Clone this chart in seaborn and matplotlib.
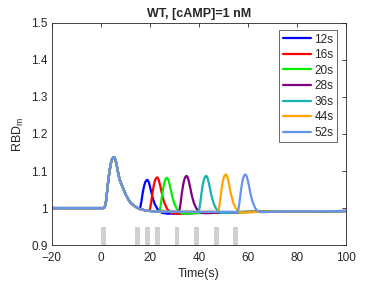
import numpy as np
import pandas as pd
import seaborn as sns
import matplotlib
matplotlib.use('Agg')
import matplotlib.pyplot as plt
from matplotlib.ticker import FuncFormatter

# first pulse response (shared by every curve before its second pulse)
base_t = [-20, 0, 1, 1.5, 2, 2.5, 3, 3.5, 4, 4.5, 5, 5.5, 6, 6.5, 7, 7.5, 8,
          9, 10, 11, 12, 13, 14, 15, 16, 18, 20, 22, 25, 30, 40, 54]
base_v = [1.0, 1.0, 1.0, 1.002, 1.015, 1.045, 1.075, 1.100, 1.120, 1.132, 1.137,
          1.137, 1.128, 1.113, 1.095, 1.080, 1.070, 1.054, 1.038, 1.025, 1.015,
          1.009, 1.004, 1.000, 0.997, 0.994, 0.992, 0.991, 0.990, 0.990, 0.990, 0.990]

labels = ['12s', '16s', '20s', '28s', '36s', '44s', '52s']
pulse2 = [14, 18, 22, 30, 38, 46, 54]
pulse_bars = [0, 14, 18, 22, 30, 38, 46, 54]
colors = ['#0000ff', '#ff0000', '#00ee00', '#800080', '#19b2b2', '#ffa500', '#6495ed']

# second pulse response, time after second pulse start
dt2 = [0, 1, 1.5, 2, 2.5, 3, 3.5, 4, 4.5, 5, 5.5, 6, 6.5, 7, 7.5, 8, 9, 10, 11, 13, 16]
v12 = [1.004, 1.000, 0.999, 1.001, 1.018, 1.040, 1.057, 1.069, 1.075, 1.076, 1.070,
       1.058, 1.044, 1.030, 1.019, 1.010, 0.998, 0.991, 0.987, 0.985, 0.985]
v16 = [0.994, 0.993, 0.993, 0.996, 1.016, 1.040, 1.060, 1.074, 1.081, 1.083, 1.077,
       1.065, 1.050, 1.035, 1.022, 1.012, 0.998, 0.990, 0.986, 0.985, 0.985]
v20 = [0.991, 0.990, 0.990, 0.993, 1.013, 1.038, 1.058, 1.072, 1.080, 1.082, 1.076,
       1.064, 1.049, 1.034, 1.021, 1.011, 0.997, 0.989, 0.986, 0.985, 0.986]
v28 = [0.990, 0.989, 0.990, 0.993, 1.014, 1.040, 1.062, 1.077, 1.085, 1.087, 1.081,
       1.068, 1.052, 1.036, 1.023, 1.012, 0.998, 0.990, 0.987, 0.986, 0.987]
v36 = [0.990, 0.989, 0.990, 0.993, 1.014, 1.040, 1.062, 1.077, 1.085, 1.087, 1.081,
       1.068, 1.052, 1.036, 1.023, 1.012, 0.998, 0.990, 0.987, 0.987, 0.988]
v44 = [0.990, 0.989, 0.990, 0.993, 1.015, 1.042, 1.065, 1.081, 1.089, 1.091, 1.085,
       1.072, 1.056, 1.039, 1.025, 1.014, 0.999, 0.991, 0.988, 0.988, 0.989]
v52 = [0.990, 0.989, 0.990, 0.993, 1.015, 1.042, 1.065, 1.081, 1.089, 1.091, 1.085,
       1.072, 1.056, 1.039, 1.025, 1.014, 0.999, 0.991, 0.989, 0.989, 0.990]
second = [v12, v16, v20, v28, v36, v44, v52]

# slow tail back to baseline
tail_t = [35, 45, 55, 65, 75, 85, 100]
tail_v = [0.986, 0.988, 0.989, 0.990, 0.991, 0.991, 0.992]

rows = []
for lab, p, vals in zip(labels, pulse2, second):
    for t, v in zip(base_t, base_v):
        if t < p:
            rows.append((t, v, lab))
    for d, v in zip(dt2, vals):
        rows.append((p + d, v, lab))
    for t, v in zip(tail_t, tail_v):
        if t > p + dt2[-1]:
            rows.append((t, v, lab))
df = pd.DataFrame(rows, columns=['Time', 'RBD', 'Interval'])

sns.set_style('white')
plt.rcParams['font.family'] = ['Liberation Sans', 'DejaVu Sans']

fig = plt.figure(figsize=(3.82, 2.86), dpi=100)
ax = fig.add_axes([0.136, 0.143, 0.770, 0.777])

ax.bar(pulse_bars, 0.05, width=2, bottom=0.9, align='edge', color='#d0d0d0',
       linewidth=0, edgecolor='none', zorder=1)
sns.lineplot(data=df, x='Time', y='RBD', hue='Interval', hue_order=labels,
             palette=colors, estimator=None, sort=False, linewidth=1.6, ax=ax, zorder=2)

ax.set_xlim(-20, 100)
ax.set_ylim(0.9, 1.5)
ax.set_xticks(range(-20, 101, 20))
ax.set_yticks(np.arange(0.9, 1.51, 0.1))
ax.yaxis.set_major_formatter(FuncFormatter(lambda v, pos: '%g' % round(v, 1)))
ax.tick_params(direction='in', top=True, right=True, length=3, width=0.6,
               labelsize=8.5, colors='#262626')
ax.tick_params(axis='x', pad=5)
ax.tick_params(axis='y', pad=3)
for s in ax.spines.values():
    s.set_color('#262626')
    s.set_linewidth(0.6)
    s.set_visible(True)

ax.set_xlabel('Time(s)', fontsize=9, color='#262626', labelpad=3)
ax.set_ylabel('RBD$_\\mathregular{m}$', fontsize=9, color='#262626', labelpad=4)
ax.set_title('WT, [cAMP]=1 nM', fontsize=9, fontweight='bold', pad=4)

handles, labs = ax.get_legend_handles_labels()
leg = ax.legend(handles, labs, loc='upper right', bbox_to_anchor=(0.969, 0.968),
                borderaxespad=0, fontsize=8.5, handlelength=2.4, handletextpad=0.25,
                labelspacing=0.3, borderpad=0.3, frameon=True, fancybox=False)
leg.get_frame().set_edgecolor('#262626')
leg.get_frame().set_linewidth(0.6)

fig.savefig('out.png', dpi=100)
